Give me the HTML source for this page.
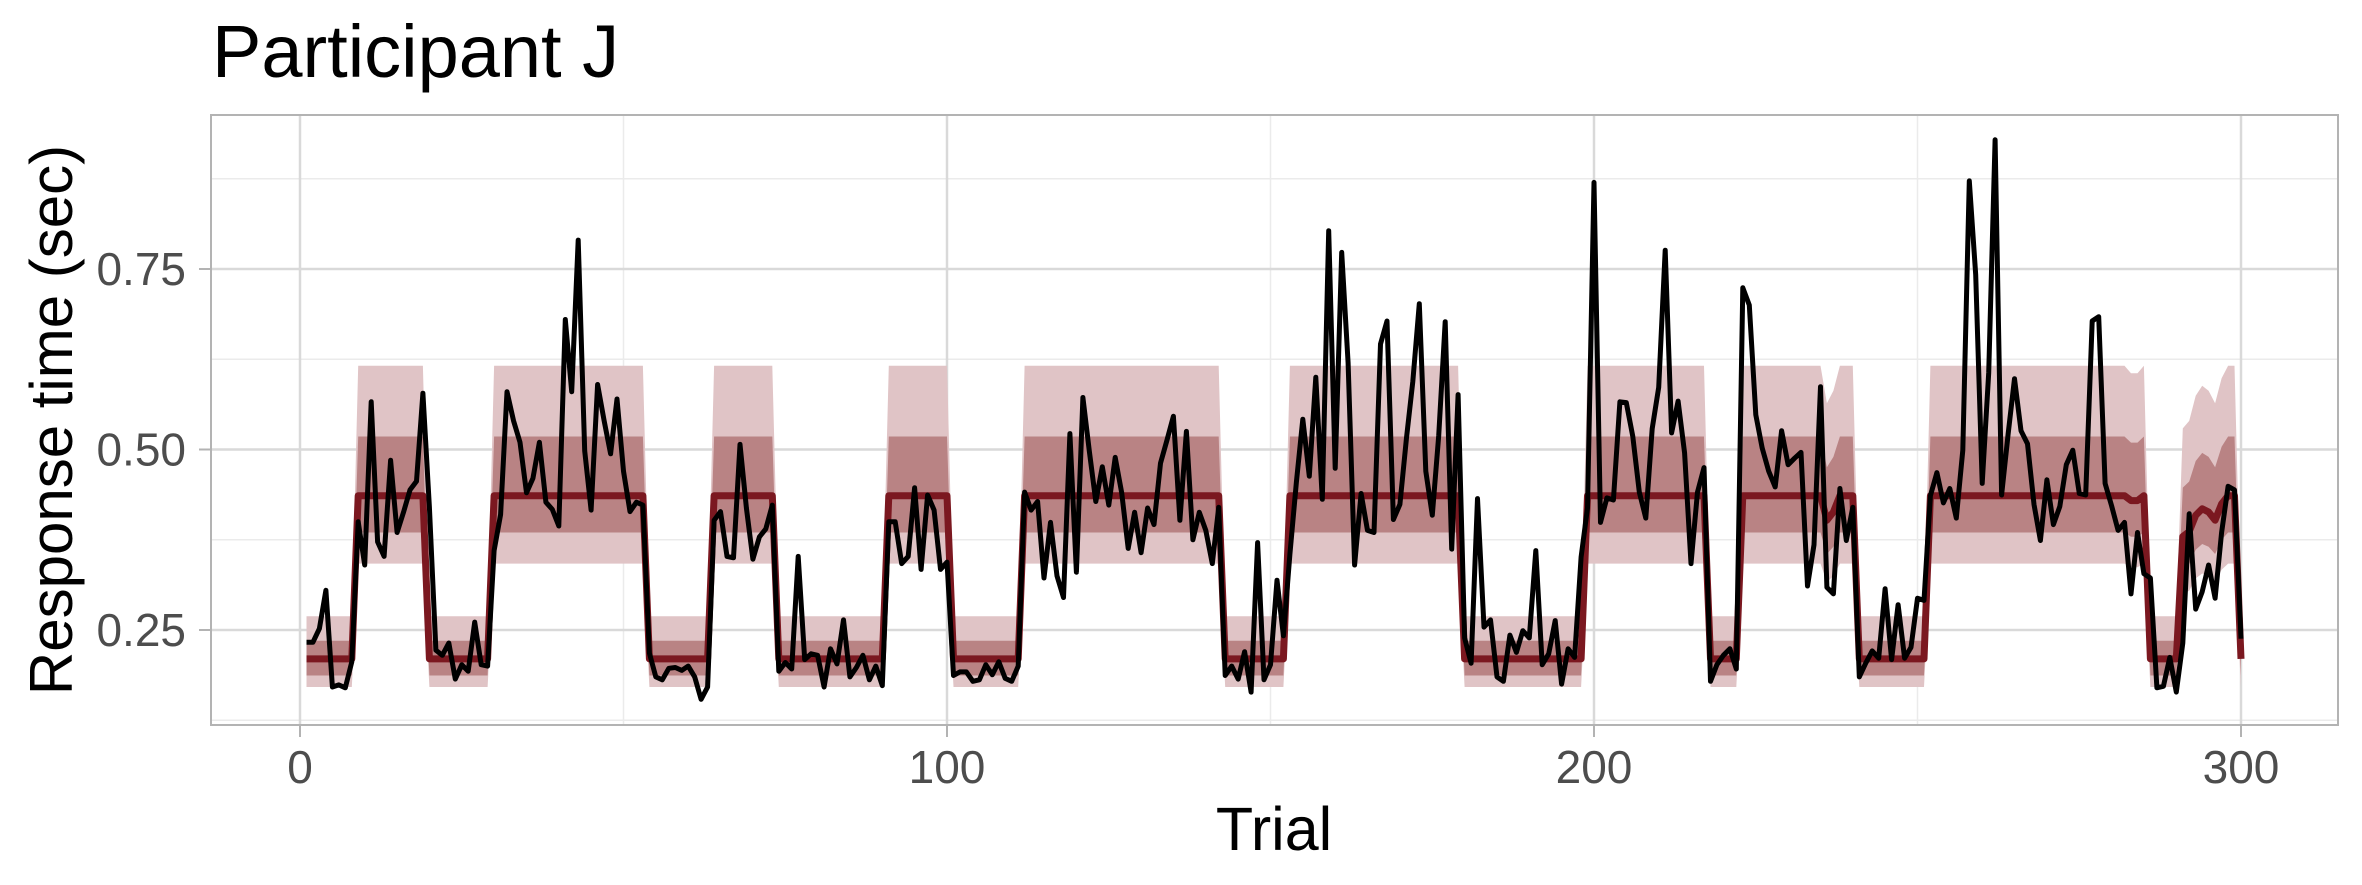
<!DOCTYPE html>
<html><head><meta charset="utf-8"><style>
html,body{margin:0;padding:0;background:#fff;}
svg{display:block;font-family:"Liberation Sans",Arial,sans-serif;}
</style></head><body>
<svg id="chart" width="2362" height="885" viewBox="0 0 2362 885" xmlns="http://www.w3.org/2000/svg">
<rect x="0" y="0" width="2362" height="885" fill="#fff"/>
<text x="212" y="77" font-size="74" fill="#000">Participant J</text>
<g id="grid"></g>
<g id="bands"></g>
<g id="lines"></g>
<rect x="211" y="115" width="2127" height="610" fill="none" stroke="#b3b3b3" stroke-width="2"/>
<g id="axes"></g>
<text x="1274" y="850" font-size="61" text-anchor="middle" fill="#000">Trial</text>
<text transform="translate(72,420) rotate(-90)" font-size="60" text-anchor="middle" fill="#000">Response time (sec)</text>
</svg>
<script>
const rt = [0.233,0.233,0.252,0.305,0.171,0.174,0.170,0.206,0.400,0.340,0.566,0.372,0.352,0.485,0.385,0.413,0.444,0.456,0.578,0.420,
0.222,0.215,0.232,0.182,0.202,0.193,0.261,0.202,0.200,0.360,0.410,0.580,0.540,0.510,0.440,0.460,0.510,0.427,0.417,0.394,
0.680,0.580,0.790,0.498,0.416,0.590,0.540,0.494,0.570,0.470,0.414,0.427,0.423,0.218,0.185,0.181,0.197,0.198,0.194,0.200,
0.185,0.154,0.171,0.402,0.414,0.352,0.350,0.507,0.419,0.348,0.379,0.390,0.423,0.193,0.205,0.196,0.352,0.209,0.217,0.215,
0.171,0.224,0.203,0.264,0.185,0.198,0.215,0.181,0.200,0.173,0.400,0.400,0.342,0.352,0.447,0.334,0.437,0.416,0.334,0.344,
0.187,0.192,0.192,0.179,0.181,0.202,0.188,0.206,0.183,0.179,0.200,0.441,0.416,0.428,0.322,0.399,0.325,0.295,0.522,0.330,
0.572,0.498,0.428,0.476,0.423,0.489,0.440,0.363,0.413,0.357,0.419,0.396,0.481,0.513,0.546,0.402,0.525,0.375,0.413,0.388,
0.342,0.420,0.187,0.200,0.182,0.220,0.164,0.371,0.181,0.202,0.319,0.242,0.355,0.455,0.542,0.463,0.600,0.431,0.803,0.474,
0.773,0.620,0.340,0.439,0.388,0.385,0.646,0.678,0.403,0.424,0.515,0.594,0.702,0.470,0.409,0.519,0.677,0.362,0.576,0.239,
0.204,0.432,0.254,0.264,0.185,0.179,0.243,0.219,0.249,0.239,0.360,0.202,0.217,0.263,0.175,0.224,0.212,0.351,0.419,0.870,
0.399,0.433,0.430,0.566,0.565,0.518,0.441,0.405,0.529,0.586,0.776,0.523,0.567,0.495,0.342,0.441,0.475,0.179,0.202,0.215,
0.224,0.196,0.724,0.700,0.548,0.502,0.470,0.448,0.526,0.479,0.488,0.496,0.311,0.368,0.587,0.309,0.300,0.446,0.374,0.420,
0.185,0.204,0.221,0.211,0.307,0.209,0.285,0.211,0.226,0.294,0.291,0.436,0.468,0.426,0.446,0.405,0.499,0.872,0.742,0.453,
0.606,0.929,0.437,0.521,0.598,0.526,0.508,0.424,0.374,0.458,0.396,0.421,0.479,0.499,0.439,0.437,0.678,0.684,0.453,0.422,
0.388,0.399,0.300,0.385,0.328,0.322,0.170,0.172,0.212,0.164,0.232,0.411,0.279,0.303,0.340,0.294,0.385,0.449,0.444,0.238];
// high-state segments [start, end] (inclusive trials)
const highStart = [9,30,64,91,112,153,199,223,252];
const highEnd   = [19,53,73,100,142,179,217,240,285];
// partial-probability trials
const partialTrials = [236,237,283,284,291,292,293,294,295,296,297,298,299];
const partialProb   = [0.85,0.9,0.97,0.97,0.75,0.78,0.88,0.92,0.9,0.85,0.95,1,1];
// state summaries: [low, high]
const stateMean  = [0.210, 0.436];
const innerLo    = [0.187, 0.385];
const innerHi    = [0.235, 0.518];
const outerLo    = [0.171, 0.342];
const outerHi    = [0.269, 0.616];
const xTicks = [0,100,200,300];
const xMinor = [50,150,250];
const yTicks = [0.25,0.5,0.75];
const yTickLabels = ["0.25","0.50","0.75"];
const yMinor = [0.125,0.375,0.625,0.875];

const NS="http://www.w3.org/2000/svg";
const X0=300, XS=6.47;
function xs(t){return X0+XS*t;}
function ys(v){return 630-(v-0.25)*722;}
const L=211,R=2338,T=115,B=725;
function mk(tag,attrs,parent){const e=document.createElementNS(NS,tag);for(const k in attrs)e.setAttribute(k,attrs[k]);parent.appendChild(e);return e;}

const n=rt.length;
const prob=[];
for(let i=0;i<n;i++){const t=i+1;let p=0;for(let s=0;s<highStart.length;s++){if(t>=highStart[s]&&t<=highEnd[s])p=1;}
 const k=partialTrials.indexOf(t);if(k>=0)p=partialProb[k];prob.push(p);}
function mix(arr,p){return arr[0]+(arr[1]-arr[0])*p;}

const grid=document.getElementById('grid');
yMinor.forEach(v=>{const l=mk('line',{x1:L,x2:R,y1:ys(v),y2:ys(v),stroke:'#ebebeb','stroke-width':1.5},grid);
});
xMinor.forEach(v=>{const l=mk('line',{x1:xs(v),x2:xs(v),y1:T,y2:B,stroke:'#ebebeb','stroke-width':1.5},grid);
});
yTicks.forEach(v=>{const l=mk('line',{x1:L,x2:R,y1:ys(v),y2:ys(v),stroke:'#d9d9d9','stroke-width':2.5},grid);
});
xTicks.forEach(v=>{const l=mk('line',{x1:xs(v),x2:xs(v),y1:T,y2:B,stroke:'#d9d9d9','stroke-width':2.5},grid);
});

function bandPath(loArr,hiArr){let up=[],dn=[];
 for(let i=0;i<n;i++){const t=i+1,p=prob[i];up.push(xs(t).toFixed(1)+','+ys(mix(hiArr,p)).toFixed(1));dn.push(xs(t).toFixed(1)+','+ys(mix(loArr,p)).toFixed(1));}
 return 'M'+up.join('L')+'L'+dn.reverse().join('L')+'Z';}
const bands=document.getElementById('bands');
const ob=mk('path',{d:bandPath(outerLo,outerHi),fill:'#e0c4c6'},bands);

const ib=mk('path',{d:bandPath(innerLo,innerHi),fill:'#b98384'},bands);


const lines=document.getElementById('lines');
let md=[];for(let i=0;i<n;i++)md.push(xs(i+1).toFixed(1)+','+ys(mix(stateMean,prob[i])).toFixed(1));
const ml=mk('path',{d:'M'+md.join('L'),fill:'none',stroke:'#7b1820','stroke-width':7,'stroke-linejoin':'round'},lines);

let rd=[];for(let i=0;i<n;i++)rd.push(xs(i+1).toFixed(1)+','+ys(rt[i]).toFixed(1));
const rl=mk('path',{d:'M'+rd.join('L'),fill:'none',stroke:'#000','stroke-width':5,'stroke-linejoin':'round'},lines);


const axes=document.getElementById('axes');
yTicks.forEach((v,i)=>{const tk=mk('line',{x1:199,x2:L,y1:ys(v),y2:ys(v),stroke:'#b3b3b3','stroke-width':2},axes);

const tx=mk('text',{x:186,y:ys(v)+16,'font-size':46,'text-anchor':'end',fill:'#4d4d4d'},axes);tx.textContent=yTickLabels[i];
});
xTicks.forEach(v=>{const tk=mk('line',{x1:xs(v),x2:xs(v),y1:B,y2:737,stroke:'#b3b3b3','stroke-width':2},axes);

const tx=mk('text',{x:xs(v),y:783,'font-size':46,'text-anchor':'middle',fill:'#4d4d4d'},axes);tx.textContent=String(v);
});
</script>
</body></html>
